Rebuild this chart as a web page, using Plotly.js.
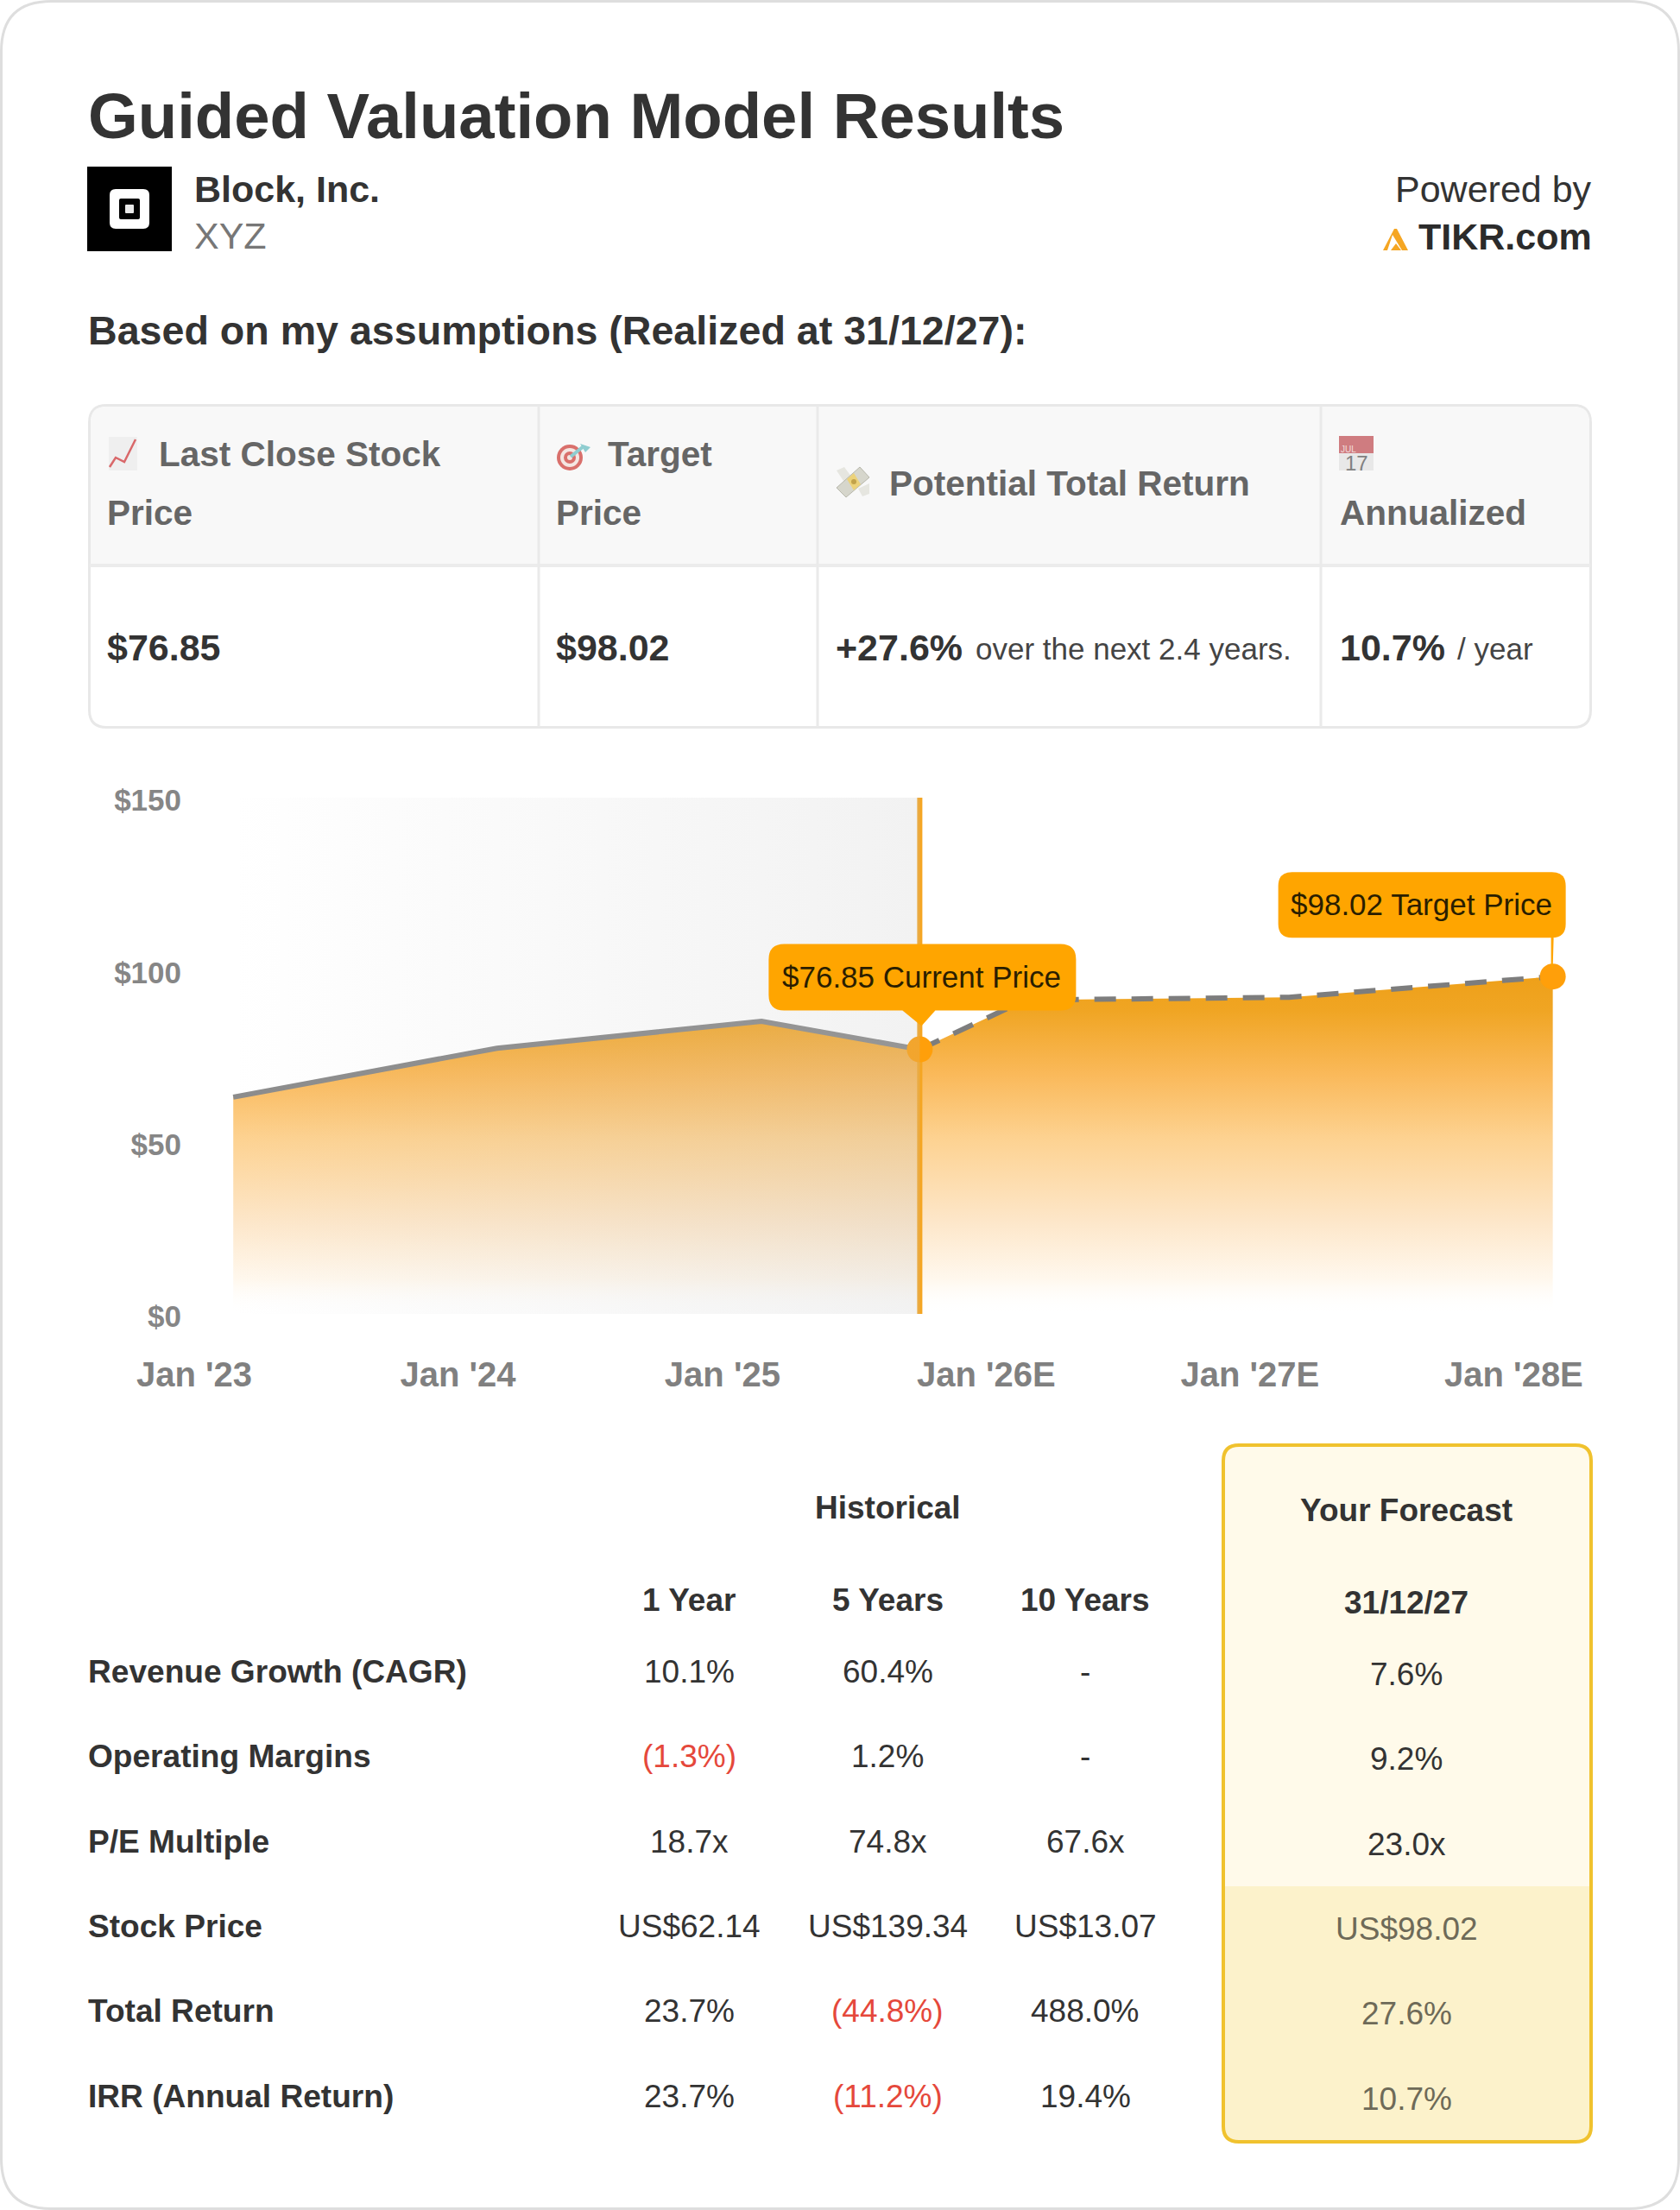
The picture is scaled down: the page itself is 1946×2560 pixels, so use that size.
<!DOCTYPE html>
<html><head><meta charset="utf-8">
<script src="https://cdn.plot.ly/plotly-3.0.1.min.js"></script>
<style>html,body{margin:0;padding:0;background:#fff}#c{width:1946px;height:2560px}</style>
</head><body><div id="c"></div>
<script>
// ---- data ----
const histDates = ['2023-02-24','2024-02-24','2025-02-24','2025-10-01'];
const histPrices = [63, 77.2, 85, 76.85];
const fcDates = ['2025-10-01','2026-02-24','2027-02-24','2028-02-24'];
const fcPrices = [76.85, 91.2, 92, 98.02];
const xTickVals = ['2023-01-01','2024-01-01','2025-01-01','2026-01-01','2027-01-01','2028-01-01'];
const xTickText = ["Jan '23","Jan '24","Jan '25","Jan '26E","Jan '27E","Jan '28E"];
const yTickVals = [0,50,100,150];
const yTickText = ['$0','$50','$100','$150'];
const rowLabels = ['Revenue Growth (CAGR)','Operating Margins','P/E Multiple','Stock Price','Total Return','IRR (Annual Return)'];
const oneYear = ['10.1%','(1.3%)','18.7x','US$62.14','23.7%','23.7%'];
const fiveYears = ['60.4%','1.2%','74.8x','US$139.34','(44.8%)','(11.2%)'];
const tenYears = ['-','-','67.6x','US$13.07','488.0%','19.4%'];
const yourForecast = ['7.6%','9.2%','23.0x','US$98.02','27.6%','10.7%'];

// ---- page helpers (page pixels to paper fractions) ----
const W = 1946, H = 2560, FONT = 'Liberation Sans, Arial, sans-serif';
const X = p => p / W, Y = p => 1 - p / H;
const anns = [], shapes = [];
function txt(x, y, text, size, color, bold, anchor) {
  const nudge = anchor==='right' ? 2 : (anchor==='center' ? 0 : -1.5);
  anns.push({xref:'paper', yref:'paper', x:X(x+nudge), y:Y(y), text, showarrow:false,
    xanchor:anchor||'left', yanchor:'middle', borderpad:0,
    font:{family:FONT, size, color, weight:bold?700:400}});
}
function pathOf(pts, close) {
  return pts.map((p,i)=>(i?'L':'M')+X(p[0])+' '+Y(p[1])).join(' ')+(close?' Z':'');
}
function poly(pts, fill, line, lw, close) {
  shapes.push({type:'path', xref:'paper', yref:'paper', path:pathOf(pts, close!==false),
    fillcolor:fill||'rgba(0,0,0,0)', line:{color:line||'rgba(0,0,0,0)', width:lw||0}});
}
function rr(x0,y0,x1,y1,r,fill,line,lw,corners) {
  const c = corners || [1,1,1,1];
  const [a,b,d,e] = c.map(v=>v?r:0);
  const P=(x,y)=>X(x)+' '+Y(y);
  const path = 'M'+P(x0+a,y0)+' L'+P(x1-b,y0)+' Q'+P(x1,y0)+' '+P(x1,y0+b)+
    ' L'+P(x1,y1-d)+' Q'+P(x1,y1)+' '+P(x1-d,y1)+' L'+P(x0+e,y1)+' Q'+P(x0,y1)+' '+P(x0,y1-e)+
    ' L'+P(x0,y0+a)+' Q'+P(x0,y0)+' '+P(x0+a,y0)+' Z';
  shapes.push({type:'path', xref:'paper', yref:'paper', path,
    fillcolor:fill||'rgba(0,0,0,0)', line:{color:line||'rgba(0,0,0,0)', width:lw||0}});
}
function circ(cx,cy,r,fill) {
  shapes.push({type:'circle', xref:'paper', yref:'paper', x0:X(cx-r), x1:X(cx+r), y0:Y(cy+r), y1:Y(cy-r),
    fillcolor:fill, line:{width:0}});
}
function hline(x0,y0,x1,y1,color,w){
  shapes.push({type:'line', xref:'paper', yref:'paper', x0:X(x0), x1:X(x1), y0:Y(y0), y1:Y(y1), line:{color, width:w}});
}

// ---- card + header ----
rr(1.5,1.5,1944.5,2558.5,58,'rgba(0,0,0,0)','#dedede',3);
txt(102,134,'Guided Valuation Model Results',74.3,'#333333',true);
shapes.push({type:'rect', xref:'paper', yref:'paper', x0:X(101), x1:X(199), y0:Y(291), y1:Y(193), fillcolor:'#000', line:{width:0}});
rr(127,219,173,265,7,'#ffffff');
rr(138,230,162,254,2,'#000000');
rr(145,237,155,247,1,'#e8e8e8');
txt(225,219,'Block, Inc.',43,'#333333',true);
txt(225,273,'XYZ',43,'#777777',false);
txt(1843,219,'Powered by',43,'#333333',false,'right');
txt(1843,274,'TIKR.com',43,'#2b2b2b',true,'right');
poly([[1602,290],[1615,265],[1618,265],[1631,290],[1624,290],[1613,272],[1607,290]],'#f5a623');
poly([[1611,290],[1617,282],[1623,290]],'#f5a623');
txt(102,383,'Based on my assumptions (Realized at 31/12/27):',46.6,'#333333',true);

// ---- summary table ----
const colX = [624,947,1530];
rr(103.5,469.5,1842.5,842.5,20,'#ffffff','#e8e8e8',3);
rr(105,471,1841,654,18,'#f8f8f8',null,0,[1,1,0,0]);
hline(104,655,1842,655,'#ececec',4);
colX.forEach(x=>hline(x,470,x,842,'#eaeaea',3));
const headColor = '#666666';
txt(184,526,'Last Close Stock',40.5,headColor,true);
txt(124,594,'Price',40.5,headColor,true);
txt(704,526,'Target',40.5,headColor,true);
txt(644,594,'Price',40.5,headColor,true);
txt(1030,560,'Potential Total Return',40.5,headColor,true);
txt(1552,594,'Annualized',40.5,headColor,true);
txt(124,750,'$76.85',43,'#333333',true);
txt(644,750,'$98.02',43,'#333333',true);
txt(968,750,'+27.6%',43,'#333333',true);
txt(1130,752,'over the next 2.4 years.',35,'#444444',false);
txt(1552,750,'10.7%',43,'#333333',true);
txt(1688,752,'/ year',35,'#444444',false);
// emoji-like icons
rr(126,506,159,545,1,'#efefef');
poly([[127,541],[134,530],[144,535],[157,509]],null,'#d9686a',2.5,false);
circ(660,530,15,'#d9706c'); circ(660,530,11,'#f4e6e2'); circ(660,530,7,'#d9706c'); circ(660,530,3,'#f4e6e2');
poly([[661,529],[676,517]],null,'#8fcdd0',4,false);
poly([[672,514],[684,518],[678,524]],'#8fcdd0');
poly([[969,545],[978,541],[986,552],[977,557]],'#e6e6e0');
poly([[994,566],[1007,560],[1007,572],[999,575]],'#e6e6e0');
poly([[969,565],[996,541],[1007,553],[980,576]],'#d6d6cc','#b8b8ac',1);
poly([[981,555],[989,548],[997,561],[989,568]],'#ecd27a');
circ(989,558,3,'#c2a24a');
shapes.push({type:'rect', xref:'paper', yref:'paper', x0:X(1551), x1:X(1591), y0:Y(545), y1:Y(525), fillcolor:'#e8e8e8', line:{width:0}});
shapes.push({type:'rect', xref:'paper', yref:'paper', x0:X(1551), x1:X(1591), y0:Y(525), y1:Y(505), fillcolor:'#cf7c80', line:{width:0}});
txt(1562,520,'JUL',10,'#f3dcdc',false,'center');
txt(1571,536,'17',24,'#808080',false,'center');

// ---- lower table ----
const fcLeft=1417, fcRight=1843, fcTop=1674, fcSplit=2185, fcBottom=2481;
rr(fcLeft,fcTop,fcRight,fcSplit,18,'#fffaea',null,0,[1,1,0,0]);
rr(fcLeft,fcSplit,fcRight,fcBottom,18,'#fcf2cb',null,0,[0,0,1,1]);
rr(fcLeft,fcTop,fcRight,fcBottom,18,'rgba(0,0,0,0)','#f0c22e',4);
const colCenters=[798,1028,1257], fcCenter=1629, rowY=[1936,2034,2133,2231,2329,2428];
txt(1028,1746,'Historical',37,'#333333',true,'center');
txt(fcCenter,1749,'Your Forecast',37,'#333333',true,'center');
['1 Year','5 Years','10 Years'].forEach((t,i)=>txt(colCenters[i],1853,t,37,'#333333',true,'center'));
txt(fcCenter,1856,'31/12/27',37,'#333333',true,'center');
const valColor=v=>v[0]==='('?'#e5483b':'#333333';
rowLabels.forEach((t,i)=>{
  txt(102,rowY[i],t,37.1,'#333333',true);
  [oneYear,fiveYears,tenYears].forEach((col,j)=>txt(colCenters[j],rowY[i],col[i],37,valColor(col[i]),false,'center'));
  txt(fcCenter,rowY[i]+3,yourForecast[i],37,i>2?'#6e6a58':'#333333',false,'center');
});

// ---- chart callouts, anchored to the data points ----
const curX=histDates[3], curY=histPrices[3], tgtX=fcDates[3], tgtY=fcPrices[3];
function calloutPath(l,r,b,t,rad,tail){
  let p='M'+(l+rad)+' '+t+' L'+(r-rad)+' '+t+' Q'+r+' '+t+' '+r+' '+(t-rad)+' L'+r+' '+(b+rad)+' Q'+r+' '+b+' '+(r-rad)+' '+b;
  if(tail) p+=tail.map(q=>' L'+q[0]+' '+q[1]).join('');
  p+=' L'+(l+rad)+' '+b+' Q'+l+' '+b+' '+l+' '+(b+rad)+' L'+l+' '+(t-rad)+' Q'+l+' '+t+' '+(l+rad)+' '+t+' Z';
  return p;
}
function pixShape(xv,yv,path){
  shapes.push({type:'path', xref:'x', yref:'y', xsizemode:'pixel', ysizemode:'pixel', xanchor:xv, yanchor:yv,
    path, fillcolor:'#ffa500', line:{width:0}});
}
pixShape(curX,curY,calloutPath(-175,181,45,122,18,[[18,45],[2,27],[-20,45]]));
pixShape(tgtX,tgtY,calloutPath(-318,15,45,121,16,[[1,45],[0,10],[-2,10],[-2,45]]));
function calloutText(xv,yv,dx,dy,text){
  anns.push({xref:'x', yref:'y', x:xv, y:yv, xshift:dx, yshift:dy, text, showarrow:false,
    xanchor:'center', yanchor:'middle', font:{family:FONT,size:35,color:'#2a1e00'}});
}
calloutText(curX,curY,2,84,'$76.85 Current Price');
calloutText(tgtX,tgtY,-152,84,'$98.02 Target Price');

// ---- traces ----
const orangeScale = [[0,'rgba(255,255,255,0)'],[0.1,'rgb(255,248,238)'],[0.28,'rgb(253,230,200)'],[0.52,'rgb(253,210,145)'],[0.71,'rgb(250,185,90)'],[0.9,'rgb(240,165,35)'],[1,'rgb(238,160,25)']];
const traces = [
  {x:fcDates, y:fcPrices, mode:'lines', fill:'tozeroy', fillcolor:'rgba(255,165,0,0.5)',
   fillgradient:{type:'vertical', start:0, stop:98.02, colorscale:orangeScale},
   line:{color:'#7d7d7d', width:6, dash:'25px,18px'}, hoverinfo:'skip'},
  {x:histDates, y:histPrices, mode:'lines', fill:'tozeroy', fillcolor:'rgba(255,165,0,0.5)',
   fillgradient:{type:'vertical', start:0, stop:98.02, colorscale:orangeScale},
   line:{color:'#8c8c8c', width:6}, hoverinfo:'skip'},
  {x:[curX,curX], y:[0,150], mode:'lines', line:{color:'#f5a623', width:6}, hoverinfo:'skip'},
  {x:[curX,tgtX], y:[curY,tgtY], mode:'markers', marker:{color:'#ff9f0a', size:30, line:{width:0}}, hoverinfo:'skip'},
  {x:[histDates[0],curX,curX,histDates[0]], y:[0,0,150,150], mode:'none', fill:'toself', fillcolor:'rgba(200,200,200,0.1)',
   fillgradient:{type:'horizontal', colorscale:[[0,'rgba(190,190,190,0)'],[1,'rgba(190,190,190,0.2)']]}, hoverinfo:'skip'}
];

const layout = {
  width:W, height:H, margin:{l:0,r:0,t:0,b:0}, paper_bgcolor:'#ffffff', plot_bgcolor:'rgba(0,0,0,0)',
  showlegend:false, shapes, annotations:anns, font:{family:FONT},
  xaxis:{domain:[X(225),X(1843)], type:'date', range:['2023-01-01','2028-04-17'], tickmode:'array',
    tickvals:xTickVals, ticktext:xTickText, showgrid:false, zeroline:false, showline:false, ticks:'',
    ticklabelstandoff:43, tickfont:{family:FONT,size:40,color:'#808080',weight:700}, automargin:false, fixedrange:true},
  yaxis:{domain:[Y(1522),Y(924)], range:[0,150], tickmode:'array', tickvals:yTickVals, ticktext:yTickText,
    showgrid:false, zeroline:false, showline:false, ticks:'', ticklabelstandoff:14, ticklabelshift:3,
    tickfont:{family:FONT,size:35,color:'#868686',weight:700}, automargin:false, fixedrange:true}
};
Plotly.newPlot('c', traces, layout, {displayModeBar:false, staticPlot:true});
</script></body></html>
